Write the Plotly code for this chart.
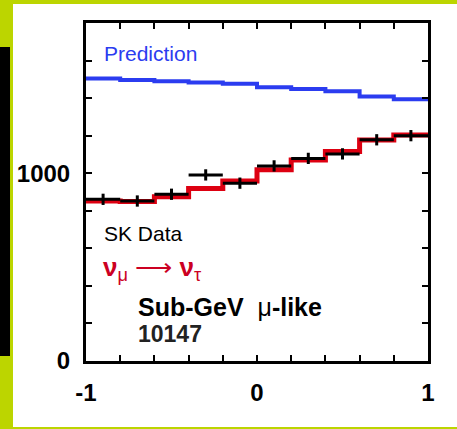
import plotly.graph_objects as go

# Data
bin_edges = [-1.0, -0.8, -0.6, -0.4, -0.2, 0.0, 0.2, 0.4, 0.6, 0.8, 1.0]
bin_centers = [-0.9, -0.7, -0.5, -0.3, -0.1, 0.1, 0.3, 0.5, 0.7, 0.9]
prediction = [1504, 1496, 1490, 1483, 1476, 1458, 1448, 1437, 1408, 1394]
numu_nutau = [852, 850, 875, 918, 959, 1018, 1071, 1116, 1177, 1203]
sk_data = [861, 852, 888, 991, 947, 1039, 1079, 1103, 1178, 1200]
sk_err = [30, 30, 30, 30, 30, 30, 30, 30, 30, 30]
x_tickvals = [-1.0, -0.8, -0.6, -0.4, -0.2, 0.0, 0.2, 0.4, 0.6, 0.8, 1.0]
x_ticktext = ["-1", "", "", "", "", "0", "", "", "", "", "1"]
y_tickvals = [0, 200, 400, 600, 800, 1000, 1200, 1400, 1600, 1800]
y_ticktext = ["0", "", "", "", "", "1000", "", "", "", ""]

FONT = "Liberation Sans, Arial, Helvetica, sans-serif"
BG = "#bcd500"

fig = go.Figure()

fig.add_trace(go.Scatter(
    x=bin_edges, y=prediction + [prediction[-1]], mode="lines",
    line=dict(color="#2b3cf0", width=4, shape="hv"), showlegend=False,
    hoverinfo="skip"))

fig.add_trace(go.Scatter(
    x=bin_edges, y=numu_nutau + [numu_nutau[-1]], mode="lines",
    line=dict(color="#dd0011", width=5, shape="hv"), showlegend=False,
    hoverinfo="skip"))

fig.add_trace(go.Scatter(
    x=bin_centers, y=sk_data, mode="markers",
    marker=dict(size=1, color="black"),
    error_x=dict(type="constant", value=0.1, width=0, thickness=3, color="black"),
    error_y=dict(type="data", array=sk_err, width=0, thickness=3, color="black"),
    showlegend=False))

L, R, T, B = 86, 29, 23, 68
W, H = 457, 429
pw, ph = W - L - R, H - T - B

def px(x):
    return (x - L) / pw

def py(y):
    return (H - B - y) / ph

shapes = [
    dict(type="rect", xref="paper", yref="paper", layer="below",
         x0=px(13), x1=px(460), y0=py(427), y1=py(4),
         fillcolor="white", line=dict(width=0)),
    dict(type="rect", xref="paper", yref="paper", layer="below",
         x0=px(-2), x1=px(10), y0=py(356), y1=py(47),
         fillcolor="black", line=dict(width=0)),
]

annotations = [
    dict(text="Prediction", x=px(102), y=py(53), xref="paper", yref="paper",
         xanchor="left", yanchor="middle", showarrow=False,
         font=dict(family=FONT, size=21, color="#2b3cf0")),
    dict(text="SK Data", x=px(102), y=py(233), xref="paper", yref="paper",
         xanchor="left", yanchor="middle", showarrow=False,
         font=dict(family=FONT, size=21, color="black")),
    dict(text="<b>ν</b><sub>μ</sub> ⟶ <b>ν</b><sub>τ</sub>", x=px(101), y=py(268),
         xref="paper", yref="paper",
         xanchor="left", yanchor="middle", showarrow=False,
         font=dict(family=FONT, size=26, color="#cc0022")),
    dict(text="<b>Sub-GeV</b>  μ<b>-like</b>", x=px(136), y=py(307), xref="paper", yref="paper",
         xanchor="left", yanchor="middle", showarrow=False,
         font=dict(family=FONT, size=25, color="black")),
    dict(text="<b>10147</b>", x=px(136), y=py(334), xref="paper", yref="paper",
         xanchor="left", yanchor="middle", showarrow=False,
         font=dict(family=FONT, size=23, color="#222222")),
]

fig.update_layout(
    width=W, height=H,
    margin=dict(l=L, r=R, t=T, b=B, pad=0),
    paper_bgcolor=BG, plot_bgcolor="white",
    shapes=shapes, annotations=annotations,
    font=dict(family=FONT),
    xaxis=dict(range=[-1, 1], tickvals=x_tickvals, ticktext=x_ticktext,
               ticks="inside", ticklen=6, tickwidth=1.5, tickcolor="black",
               showline=True, linewidth=3, linecolor="black", mirror="allticks",
               showgrid=False, zeroline=False, ticklabelstandoff=8,
               tickfont=dict(family=FONT, size=24, color="black", weight="bold")),
    yaxis=dict(range=[0, 1800], tickvals=y_tickvals, ticktext=y_ticktext,
               ticks="inside", ticklen=6, tickwidth=1.5, tickcolor="black",
               showline=True, linewidth=3, linecolor="black", mirror="allticks",
               showgrid=False, zeroline=False, ticklabelstandoff=8,
               tickfont=dict(family=FONT, size=24, color="black", weight="bold")),
)

fig.write_html("out.html", config={"displayModeBar": False},
               post_script="document.body.style.margin='0';document.body.style.overflow='hidden';")
